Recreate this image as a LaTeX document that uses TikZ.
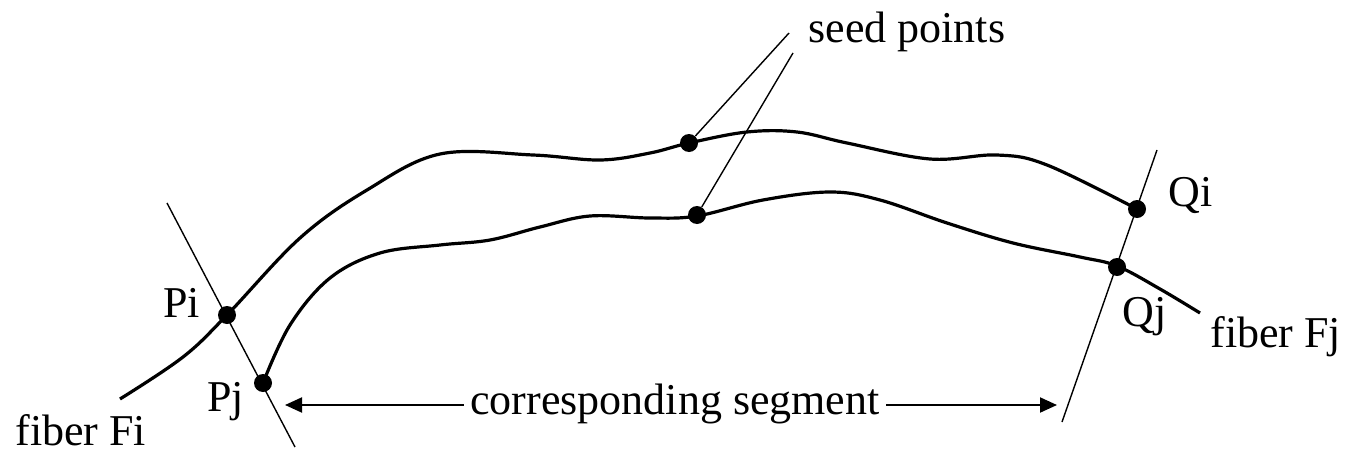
\documentclass[tikz,border=0pt]{standalone}
\usepackage{fontspec}
\setmainfont{Liberation Serif}
\usepackage{tikz}
\usetikzlibrary{arrows.meta}

\begin{document}
\begin{tikzpicture}[x=0.5pt, y=-0.5pt,
  fiber/.style={line width=1.6pt, line join=round},
  thinln/.style={line width=0.7pt},
  seed/.style={circle, fill=black, inner sep=0pt, minimum size=9pt},
  lbl/.style={font=\fontsize{22}{25}\selectfont, inner sep=0pt, anchor=base west},
  arr/.style={-{Triangle[length=8.5pt, width=7.5pt]}, line width=1pt}
]
\useasboundingbox (0,0) rectangle (1360,455);

% Fibers
\draw[fiber] plot[smooth, tension=0.6] coordinates {
  (120,399) (183,357) (227,315) (300,238) (367,190) (440,154)
  (533,155) (600,160) (650,153) (689,143) (747,132)
  (797,132) (847,143) (930,159) (997,155) (1047,165) (1137,209)};
\draw[fiber] plot[smooth, tension=0.6] coordinates {
  (263,383) (290,325) (330,278) (380,253) (440,245) (490,240) (540,227)
  (590,216) (650,218) (697,216) (763,200) (830,192) (880,200) (947,223)
  (1013,243) (1080,257) (1117,266) (1160,289) (1200,313)};

% Points on the fibers
\node[seed] (pi) at (227,315) {};
\node[seed] (pj) at (263,383) {};
\node[seed] (qi) at (1137,209) {};
\node[seed] (qj) at (1117,267) {};
\node[seed] (si) at (689,143) {};
\node[seed] (sj) at (697,215) {};

% Cutting lines
\coordinate (ltop) at (167,203);
\coordinate (lbot) at (295,447);
\coordinate (rtop) at (1157,150);
\coordinate (rbot) at (1062,422);
\draw[thinln] (ltop) -- (lbot);
\draw[thinln] (rtop) -- (rbot);

% Labels
\node[lbl] (lpi) at (163,317) {Pi};
\node[lbl] (lpj) at (207,411) {Pj};
\node[lbl] (lqi) at (1168,206) {Qi};
\node[lbl] (lqj) at (1122,326) {Qj};
\node[lbl] (lfi) at (15,445) {fiber Fi};
\node[lbl] (lfj) at (1210,347) {fiber Fj};
\node[lbl] (lsp) at (808,42) {seed points};

% Seed point leaders
\coordinate (ti) at (789,33);
\coordinate (tj) at (793,53);
\draw[thinln] (si) -- (ti);
\draw[thinln] (sj) -- (tj);

% Corresponding segment
\node[font=\fontsize{22}{25}\selectfont, inner xsep=3pt, inner ysep=0pt, anchor=base]
    (seg) at (675,414) {corresponding segment};
\coordinate (segl) at (285,405);
\coordinate (segr) at (1057,405);
\draw[arr] (seg.west |- segl) -- (segl);
\draw[arr] (seg.east |- segr) -- (segr);

\end{tikzpicture}
\end{document}
